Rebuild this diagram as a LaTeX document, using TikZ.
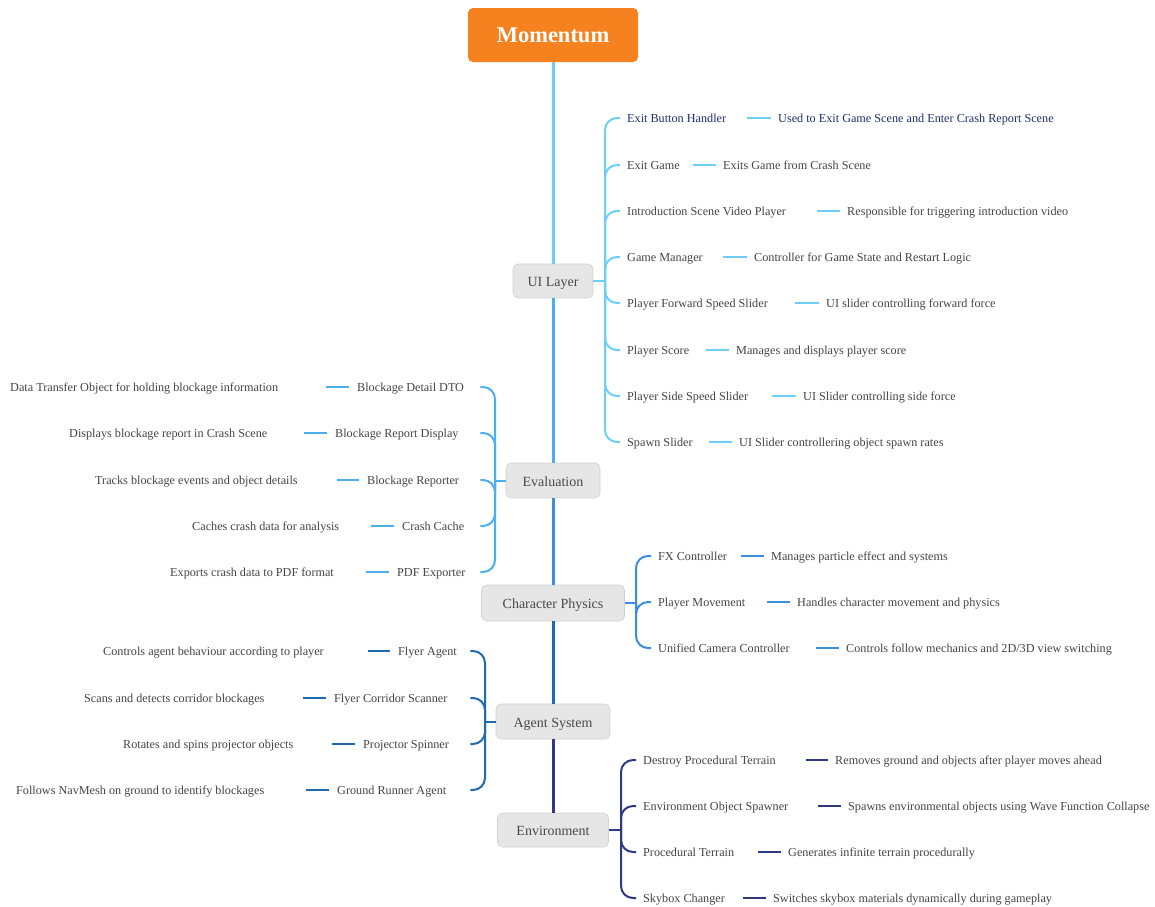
\documentclass[tikz,border=0pt]{standalone}
\usepackage{fontspec}
\setmainfont{Liberation Serif}
\definecolor{momfill}{HTML}{F5821F}
\definecolor{catfill}{HTML}{E6E6E6}
\definecolor{catborder}{HTML}{D2D2D2}
\definecolor{cattxt}{HTML}{484848}
\definecolor{txt}{HTML}{444444}
\definecolor{navytxt}{HTML}{1F2F6E}
\definecolor{cUI}{HTML}{6DCFF6}
\definecolor{cEV}{HTML}{4AAEEF}
\definecolor{cCP}{HTML}{3A8DDF}
\definecolor{cAG}{HTML}{1E6AAE}
\definecolor{cEN}{HTML}{2E3985}
\begin{document}
\begin{tikzpicture}[x=1pt,y=-1pt,
  lbl/.style={inner sep=0pt, text height=10.3pt, text depth=1.7pt, font=\fontsize{12.2}{14}\selectfont, text=txt},
  tw/.style={lbl, anchor=west, align=flush left, text width=#1pt},
  rd/.style={lbl, anchor=west},
  cat/.style={draw=catborder, fill=catfill, rounded corners=5pt, line width=0.6pt,
    font=\fontsize{14}{16}\selectfont, text=cattxt, inner sep=0pt, text height=12.2pt, text depth=1pt},
  spine/.style={line width=3pt, draw=#1},
  br/.style={line width=2pt, draw=#1, rounded corners=12pt},
  dsh/.style={line width=2pt, draw=#1}
]
\useasboundingbox (0,0) rectangle (1155,906);

% root and categories
\node[fill=momfill, rounded corners=5pt, minimum width=170pt, minimum height=54pt, inner sep=0pt,
  text=white, font=\fontsize{22.5}{26}\bfseries] (mom) at (553,35) {Momentum};
\node[cat, minimum width=80pt, minimum height=34pt] (ui) at (553,281) {UI Layer};
\node[cat, minimum width=94pt, minimum height=35pt] (ev) at (553,480.5) {Evaluation};
\node[cat, minimum width=143pt, minimum height=36pt] (cp) at (553,603) {Character Physics};
\node[cat, minimum width=114pt, minimum height=35pt] (ag) at (553,721.5) {Agent System};
\node[cat, minimum width=111pt, minimum height=34pt] (en) at (553,830) {Environment};

\draw[spine=cUI] (mom.south) -- (ui.north);
\draw[spine=cEV] (ui.south) -- (ev.north);
\draw[spine=cCP] (ev.south) -- (cp.north);
\draw[spine=cAG] (cp.south) -- (ag.north);
\draw[spine=cEN] (ag.south) -- (en.north);

% ---------- UI Layer ----------
\coordinate (uiJ) at (605,281);
\node[tw=120, text=navytxt] (u1) at (627,118) {Exit Button Handler};
\node[rd, text=navytxt] (u1d) at (778,118) {Used to Exit Game Scene and Enter Crash Report Scene};
\node[tw=66] (u2) at (627,165) {Exit Game};
\node[rd] (u2d) at (723,165) {Exits Game from Crash Scene};
\node[tw=190] (u3) at (627,211) {Introduction Scene Video Player};
\node[rd] (u3d) at (847,211) {Responsible for triggering introduction video};
\node[tw=96] (u4) at (627,257) {Game Manager};
\node[rd] (u4d) at (754,257) {Controller for Game State and Restart Logic};
\node[tw=168] (u5) at (627,303) {Player Forward Speed Slider};
\node[rd] (u5d) at (826,303) {UI slider controlling forward force};
\node[tw=79] (u6) at (627,350) {Player Score};
\node[rd] (u6d) at (736,350) {Manages and displays player score};
\node[tw=145] (u7) at (627,396) {Player Side Speed Slider};
\node[rd] (u7d) at (803,396) {UI Slider controlling side force};
\node[tw=82] (u8) at (627,442) {Spawn Slider};
\node[rd] (u8d) at (739,442) {UI Slider controllering object spawn rates};
\draw[br=cUI] (ui.east) -- (uiJ);
\foreach \n in {u1,u2,u3,u4,u5,u6,u7,u8}{
  \draw[br=cUI, shorten >=7pt] (uiJ) |- (\n.west);
  \draw[dsh=cUI, shorten >=7.5pt] (\n.east) -- (\n d.west);
}

% ---------- Evaluation ----------
\coordinate (evJ) at (495,480.5);
\node[tw=123] (e1) at (357,387) {Blockage Detail DTO};
\node[tw=316] (e1d) at (10,387) {Data Transfer Object for holding blockage information};
\node[tw=145] (e2) at (335,433) {Blockage Report Display};
\node[tw=235] (e2d) at (69,433) {Displays blockage report in Crash Scene};
\node[tw=113] (e3) at (367,480) {Blockage Reporter};
\node[tw=242] (e3d) at (95,480) {Tracks blockage events and object details};
\node[tw=78] (e4) at (402,526) {Crash Cache};
\node[tw=179] (e4d) at (192,526) {Caches crash data for analysis};
\node[tw=83] (e5) at (397,572) {PDF Exporter};
\node[tw=196] (e5d) at (170,572) {Exports crash data to PDF format};
\draw[br=cEV] (ev.west) -- (evJ);
\foreach \n in {e1,e2,e3,e4,e5}{
  \draw[br=cEV] (evJ) |- (\n.east);
  \draw[dsh=cEV, shorten >=8pt] (\n d.east) -- (\n.west);
}

% ---------- Character Physics ----------
\coordinate (cpJ) at (636,603);
\node[tw=83] (p1) at (658,556) {FX Controller};
\node[rd] (p1d) at (771,556) {Manages particle effect and systems};
\node[tw=109] (p2) at (658,602) {Player Movement};
\node[rd] (p2d) at (797,602) {Handles character movement and physics};
\node[tw=158] (p3) at (658,648) {Unified Camera Controller};
\node[rd] (p3d) at (846,648) {Controls follow mechanics and 2D/3D view switching};
\draw[br=cCP] (cp.east) -- (cpJ);
\foreach \n in {p1,p2,p3}{
  \draw[br=cCP, shorten >=7pt] (cpJ) |- (\n.west);
  \draw[dsh=cCP, shorten >=7.5pt] (\n.east) -- (\n d.west);
}

% ---------- Agent System ----------
\coordinate (agJ) at (485,721.5);
\node[tw=72] (a1) at (398,651) {Flyer Agent};
\node[tw=265] (a1d) at (103,651) {Controls agent behaviour according to player};
\node[tw=136] (a2) at (334,698) {Flyer Corridor Scanner};
\node[tw=219] (a2d) at (84,698) {Scans and detects corridor blockages};
\node[tw=107] (a3) at (363,744) {Projector Spinner};
\node[tw=209] (a3d) at (123,744) {Rotates and spins projector objects};
\node[tw=133] (a4) at (337,790) {Ground Runner Agent};
\node[tw=290] (a4d) at (16,790) {Follows NavMesh on ground to identify blockages};
\draw[br=cAG] (ag.west) -- (agJ);
\foreach \n in {a1,a2,a3,a4}{
  \draw[br=cAG] (agJ) |- (\n.east);
  \draw[dsh=cAG, shorten >=8pt] (\n d.east) -- (\n.west);
}

% ---------- Environment ----------
\coordinate (enJ) at (621,830);
\node[tw=163] (n1) at (643,760) {Destroy Procedural Terrain};
\node[rd] (n1d) at (835,760) {Removes ground and objects after player moves ahead};
\node[tw=175] (n2) at (643,806) {Environment Object Spawner};
\node[rd] (n2d) at (848,806) {Spawns environmental objects using Wave Function Collapse};
\node[tw=115] (n3) at (643,852) {Procedural Terrain};
\node[rd] (n3d) at (788,852) {Generates infinite terrain procedurally};
\node[tw=100] (n4) at (643,898) {Skybox Changer};
\node[rd] (n4d) at (773,898) {Switches skybox materials dynamically during gameplay};
\draw[br=cEN] (en.east) -- (enJ);
\foreach \n in {n1,n2,n3,n4}{
  \draw[br=cEN, shorten >=7pt] (enJ) |- (\n.west);
  \draw[dsh=cEN, shorten >=7.5pt] (\n.east) -- (\n d.west);
}
\end{tikzpicture}
\end{document}
